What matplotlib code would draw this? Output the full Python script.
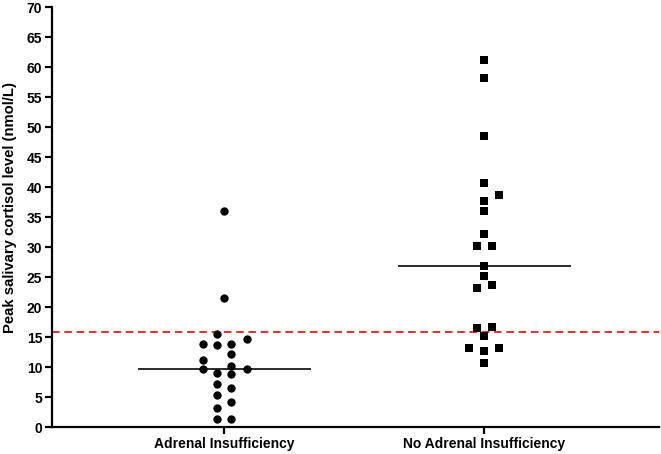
import matplotlib
matplotlib.use("Agg")
import matplotlib.pyplot as plt
import numpy as np

plt.rcParams['font.family'] = ['Liberation Sans', 'DejaVu Sans']

categories = ["Adrenal Insufficiency", "No Adrenal Insufficiency"]

# Peak salivary cortisol values (nmol/L)
ai_values = [36.1, 21.6, 15.55, 13.9, 13.7, 13.9, 14.7, 12.2, 11.2, 9.8, 10.3,
             9.8, 9.1, 8.9, 7.3, 6.5, 5.4, 4.2, 3.3, 1.4, 1.4]
# horizontal scatter offsets (beeswarm columns, fraction of category spacing)
ai_offsets = [0.0, 0.0, -0.027, -0.083, -0.027, 0.028, 0.086, 0.028, -0.083, -0.083, 0.028,
              0.086, -0.027, 0.028, -0.027, 0.028, -0.027, 0.028, -0.027, -0.027, 0.028]

noai_values = [61.2, 58.2, 48.5, 40.8, 38.7, 37.8, 36.1, 32.2, 30.3, 30.3, 26.9,
               25.3, 23.2, 23.7, 16.5, 16.7, 15.2, 13.3, 13.3, 12.7, 10.8]
noai_offsets = [0.0, 0.0, 0.0, 0.0, 0.055, 0.0, 0.0, 0.0, -0.028, 0.028, 0.0,
                0.0, -0.028, 0.028, -0.028, 0.028, 0.0, -0.058, 0.057, 0.0, 0.0]

medians = [9.8, 26.9]
cutoff = 15.9

yticks = list(range(0, 75, 5))

fig = plt.figure(figsize=(6.61, 4.54), dpi=100)
ax = fig.add_axes([52/661, 1 - 427.3/454, (659-52)/661, (427.3-7.3)/454])

ax.scatter(np.array(ai_offsets) + 0, ai_values, s=36, marker='o', color='black',
           linewidths=0, zorder=3)
ax.scatter(np.array(noai_offsets) + 1, noai_values, s=30, marker='s', color='black',
           linewidths=0, zorder=3)

for i, m in enumerate(medians):
    ax.plot([i - 0.333, i + 0.333], [m, m], color='#1a1a1a', lw=1.3, zorder=2,
            solid_capstyle='butt')

ax.axhline(cutoff, color='#e02020', lw=1.3, ls=(0, (4.2, 2.6)), zorder=1)

ax.set_xlim(-0.662, 1.672)
ax.set_ylim(0, 70)
ax.set_yticks(yticks)
ax.set_xticks([0, 1])
ax.set_xticklabels(categories, fontsize=10, fontweight='bold')
ax.set_yticklabels([str(t) for t in yticks], fontsize=10, fontweight='bold')
ax.set_ylabel("Peak salivary cortisol level (nmol/L)", fontsize=10.7, fontweight='bold')
ax.yaxis.set_label_coords(-0.058, 0.524)

for s in ['top', 'right']:
    ax.spines[s].set_visible(False)
for s in ['left', 'bottom']:
    ax.spines[s].set_linewidth(1.6)
ax.tick_params(axis='both', width=1.6, length=5, direction='out', pad=2)

fig.savefig("out.png", dpi=100)
